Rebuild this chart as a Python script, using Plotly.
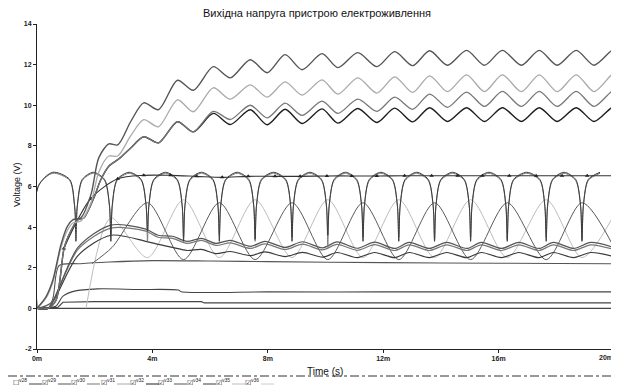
import plotly.graph_objects as go

# ---------------- data (time in ms, voltage in V) ----------------
# steady-state ripple extrema times (peak, trough, peak, ...)
ripple_t = [3.70, 4.21, 4.87, 5.42, 6.11, 6.70, 7.39, 7.98, 8.60, 9.19, 9.88, 10.43,
            11.12, 11.78, 12.40, 13.02, 13.61, 14.23, 14.89, 15.51, 16.13, 16.79,
            17.41, 18.03, 18.69, 19.31, 19.93, 20.0]

a_start_t = [0, 0.31, 0.55, 0.83, 1.04, 1.24, 1.52, 1.87, 2.14, 2.49, 2.80, 3.25]
a_start_v = [0, 0.57, 1.4, 3.13, 4.0, 4.36, 4.46, 5.6, 7.41, 8.1, 8.05, 9.2]
a_ss_v = [10.12, 9.78, 11.23, 10.74, 11.9, 11.35, 12.24, 11.6, 12.49, 11.75, 12.54, 11.85,
          12.59, 11.9, 12.64, 11.95, 12.68, 11.97, 12.7, 11.97, 12.7, 11.97, 12.7, 11.97,
          12.7, 11.97, 12.7, 12.65]

b_start_t = [0, 0.31, 0.55, 0.83, 1.04, 1.24, 1.52, 1.87, 2.14, 2.49, 2.80, 3.25]
b_start_v = [0, 0.5, 1.3, 3.0, 3.8, 4.2, 4.3, 5.2, 6.7, 7.5, 7.5, 8.5]
b_ss_v = [9.29, 8.94, 10.27, 9.68, 10.86, 10.3, 11.0, 10.4, 11.15, 10.5, 11.25, 10.55,
          11.35, 10.6, 11.4, 10.63, 11.45, 10.67, 11.5, 10.67, 11.5, 10.67, 11.5, 10.67,
          11.5, 10.67, 11.5, 11.45]

cd_start_t = [0, 0.38, 0.66, 0.93, 1.07, 1.42, 1.62, 1.97, 2.21, 2.49, 2.83, 3.25]
cd_start_v = [0, 0, 0.4, 2.9, 3.5, 4.36, 4.45, 5.44, 6.33, 7.0, 7.35, 7.9]
c_ss_v = [8.45, 8.15, 9.19, 8.69, 9.7, 9.3, 10.0, 9.38, 10.1, 9.5, 10.2, 9.6, 10.3, 9.7,
          10.4, 9.8, 10.55, 9.9, 10.65, 9.94, 10.68, 9.94, 10.68, 9.94, 10.68, 9.94,
          10.68, 10.6]
d_ss_v = [8.45, 8.15, 9.19, 8.69, 9.6, 9.05, 9.78, 9.04, 9.8, 9.1, 9.82, 9.12, 9.84,
          9.15, 9.86, 9.18, 9.88, 9.2, 9.88, 9.2, 9.88, 9.2, 9.88, 9.2, 9.88, 9.2,
          9.88, 9.8]

# rectifier "dome" waveforms: dip times and dip depths
dip_t = [1.35, 2.56, 3.83, 5.08, 6.32, 7.56, 8.84, 10.08, 11.30, 12.54, 13.78,
         15.03, 16.30, 17.65, 18.89]
q1_dip_v = [3.3, 3.3, 3.8, 3.3, 3.3, 3.4, 3.3, 3.6, 3.3, 3.3, 3.3, 3.3, 3.3, 3.3, 3.3]
q2_dip_v = [4.4, 3.6, 3.3, 3.5, 3.6, 3.3, 3.5, 3.0, 3.5, 3.5, 3.4, 3.5, 3.4, 3.5, 3.4]
dome_top = 6.7

# regulated output with triangle markers
m_t = [0.93, 1.86, 2.80, 3.70, 4.63, 5.53, 6.42, 7.32, 8.25, 9.12, 10.05, 10.91,
       11.78, 12.74, 13.68, 14.58, 15.44, 16.37, 17.30, 18.20, 19.07, 20.0]
m_v = [2.95, 5.4, 6.38, 6.55, 6.55, 6.5, 6.45, 6.5, 6.5, 6.5, 6.52, 6.52, 6.52, 6.53,
       6.53, 6.53, 6.53, 6.53, 6.53, 6.53, 6.53, 6.53]

# slow sinusoid-like waveforms (peak at every other dip)
s_dark_t = [1.9, 2.6, 3.83, 5.08, 6.32, 7.56, 8.84, 10.08, 11.30, 12.54, 13.78, 15.03,
            16.30, 17.65, 18.89, 20.0]
s_dark_v = [2.2, 3.0, 5.2, 2.4, 5.2, 2.4, 5.2, 2.4, 5.2, 2.4, 5.2, 2.4, 5.2, 2.4, 5.2, 3.0]
s_light_t = [1.7, 2.56, 3.83, 5.08, 6.32, 7.56, 8.84, 10.08, 11.30, 12.54, 13.78,
             15.03, 16.30, 17.65, 18.89, 20.0]
s_light_v = [0.0, 4.45, 2.5, 5.35, 2.5, 5.35, 2.5, 5.35, 2.5, 5.35, 2.5, 5.35, 2.5, 5.35,
             2.5, 4.6]

# small wavy outputs
w_t = [0, 0.38, 1.42, 2.56, 3.77, 4.2, 4.7, 5.2, 5.7, 6.2, 6.7, 7.4, 7.9, 8.6, 9.2, 9.9,
       10.4, 11.1, 11.7, 12.4, 12.9, 13.6, 14.2, 14.9, 15.4, 16.1, 16.7, 17.4, 17.9,
       18.6, 19.2, 20.0]
w1_v = [0, 0, 3.0, 4.1, 3.9, 3.6, 3.55, 3.3, 3.45, 3.2, 3.35, 3.05, 3.3, 3.0, 3.28, 2.98,
        3.27, 2.96, 3.26, 2.95, 3.25, 2.95, 3.25, 2.95, 3.25, 2.95, 3.25, 2.95, 3.25,
        2.95, 3.25, 3.0]
w2_v = [0, 0, 2.9, 3.95, 3.8, 3.5, 3.45, 3.2, 3.35, 3.1, 3.22, 2.95, 3.18, 2.9, 3.16,
        2.88, 3.15, 2.86, 3.14, 2.85, 3.13, 2.85, 3.13, 2.85, 3.13, 2.85, 3.13, 2.85,
        3.13, 2.85, 3.13, 2.9]
w3_v = [0, 0, 2.6, 3.6, 3.3, 3.15, 3.0, 2.85, 2.9, 2.7, 2.8, 2.6, 2.78, 2.55, 2.76, 2.52,
        2.75, 2.5, 2.75, 2.5, 2.75, 2.5, 2.75, 2.5, 2.75, 2.5, 2.75, 2.5, 2.75, 2.5,
        2.75, 2.55]

# nearly flat outputs
f1_t = [0, 0.5, 0.76, 1.5, 2.5, 4.0, 6.0, 8.0, 12.0, 16.0, 20.0]
f1_v = [0, 0.3, 2.1, 2.2, 2.28, 2.35, 2.33, 2.3, 2.25, 2.22, 2.2]
f2_t = [0, 0.65, 0.9, 1.3, 2.1, 3.5, 4.9, 5.0, 8.0, 12.0, 20.0]
f2_v = [0, 0.1, 0.6, 0.85, 0.96, 0.93, 0.9, 0.82, 0.81, 0.81, 0.81]
f3_t = [0, 0.72, 0.9, 2.0, 5.7, 5.8, 10.0, 20.0]
f3_v = [0, 0.05, 0.3, 0.33, 0.33, 0.27, 0.27, 0.27]
f4_t = [0, 20.0]
f4_v = [0, 0]

x_ticks = [0, 4, 8, 12, 16, 20]
x_tick_text = ["0m", "4m", "8m", "12m", "16m", "20m"]
y_ticks = [-2, 0, 2, 4, 6, 8, 10, 12, 14]
legend_names = ["v28", "v29", "v30", "v31", "v32", "v33", "v34", "v35", "v36"]

# ---------------- page geometry (page has an 8 px body margin) ----------------
FIG_W, FIG_H = 611, 379
ML, MR, MT, MB = 29, 5, 16, 38
PW, PH = FIG_W - ML - MR, FIG_H - MT - MB


def px_x(px):  # page pixel -> paper x
    return (px - 8 - ML) / PW


def px_y(py):  # page pixel -> paper y
    return (FIG_H - MB - (py - 8)) / PH


# ---------------- helpers ----------------
def dome_wave(dips, depths, top):
    xs, ys = [0, 0.04, 0.55], [0, 6.0, top]
    for i, (d, v) in enumerate(zip(dips, depths)):
        xs += [d - 0.22, d - 0.05, d, d + 0.05, d + 0.22]
        ys += [top - 0.35, top - 1.6, v, top - 1.6, top - 0.35]
        nxt = dips[i + 1] if i + 1 < len(dips) else d + 1.25
        xs.append((d + nxt) / 2)
        ys.append(top)
    return xs, ys


fig = go.Figure()


def add(x, y, color, width=1.2, shape="spline", mode="lines", **kw):
    fig.add_trace(go.Scatter(x=x, y=y, mode=mode, showlegend=False, hoverinfo="skip",
                             line=dict(color=color, width=width, shape=shape,
                                       smoothing=0.8 if shape == "spline" else None),
                             **kw))


# flat / bottom lines
add(f4_t, f4_v, "#444444", 1.1, "linear")
add(f3_t, f3_v, "#444444", 1.1, "linear")
add(f2_t, f2_v, "#444444", 1.1, "spline")
add(f1_t, f1_v, "#555555", 1.1, "spline")

# slow sine-like
add(s_light_t, s_light_v, "#bdbdbd", 1.0)
add(s_dark_t, s_dark_v, "#5a5a5a", 1.0)

# wavy outputs
add(w_t, w3_v, "#3a3a3a", 1.2)
add(w_t, w2_v, "#777777", 1.2)
add(w_t, w1_v, "#555555", 1.2)

# dome waveforms
qx, qy = dome_wave(dip_t, q2_dip_v, dome_top - 0.05)
add(qx, qy, "#7a7a7a", 1.0)
qx, qy = dome_wave(dip_t, q1_dip_v, dome_top)
add(qx, qy, "#3a3a3a", 1.0)

# regulated line with markers
add(m_t, m_v, "#333333", 1.1, "spline", mode="lines+markers",
    marker=dict(symbol="triangle-up", size=4, color="#222222"))

# top ripple outputs
add(cd_start_t + ripple_t, cd_start_v + d_ss_v, "#1e1e1e", 1.4)
add(cd_start_t + ripple_t, cd_start_v + c_ss_v, "#777777", 1.3)
add(b_start_t + ripple_t, b_start_v + b_ss_v, "#aaaaaa", 1.3)
add(a_start_t + ripple_t, a_start_v + a_ss_v, "#555555", 1.4)

# ---------------- layout ----------------
fig.update_layout(
    width=FIG_W, height=FIG_H,
    margin=dict(l=ML, r=MR, t=MT, b=MB, autoexpand=False),
    paper_bgcolor="white", plot_bgcolor="white",
    font=dict(family="Liberation Sans, Arial, sans-serif", color="#222222"),
    title=dict(text="Вихідна напруга пристрою електроживлення",
               x=(317 - 8) / FIG_W, xref="container",
               y=1 - (13 - 8) / FIG_H, yref="container", xanchor="center",
               yanchor="middle", pad=dict(t=0, b=0),
               font=dict(size=11, color="#111111")),
)
fig.update_xaxes(range=[0, 20], tickvals=x_ticks[:-1],
                 ticktext=[f"<b>{t}</b>" for t in x_tick_text[:-1]], automargin=False,
                 showgrid=False, zeroline=False, showline=True, linecolor="#222222",
                 linewidth=1, ticks="outside", ticklen=3, tickcolor="#222222",
                 tickfont=dict(size=7, color="#222222"))
fig.update_yaxes(range=[-2, 14], tickvals=y_ticks,
                 ticktext=[f"<b>{v}</b>" for v in y_ticks], showgrid=False,
                 zeroline=False, automargin=False,
                 showline=True, linecolor="#222222", linewidth=1, ticks="outside",
                 ticklen=3, tickcolor="#222222", tickfont=dict(size=7, color="#222222"))

# last x tick (kept inside the page)
fig.add_shape(type="line", xref="x", yref="paper", x0=x_ticks[-1], x1=x_ticks[-1],
              y0=0, y1=-3 / PH, line=dict(color="#222222", width=1))
fig.add_annotation(xref="paper", yref="paper", x=px_x(615), y=px_y(357),
                   xanchor="right", yanchor="middle", showarrow=False,
                   text=f"<b>{x_tick_text[-1]}</b>", font=dict(size=7, color="#222222"))

# axis titles
fig.add_annotation(xref="paper", yref="paper", x=px_x(325), y=px_y(371),
                   xanchor="center", yanchor="middle", showarrow=False,
                   text="Time (s)", font=dict(size=10, color="#111111"))
fig.add_annotation(xref="paper", yref="paper", x=px_x(17), y=px_y(185),
                   xanchor="center", yanchor="middle", showarrow=False, textangle=-90,
                   text="Voltage (V)", font=dict(size=9, color="#111111"))

# legend strip below the chart
fig.add_shape(type="line", xref="paper", yref="paper", x0=px_x(8), x1=px_x(614),
              y0=px_y(376), y1=px_y(376),
              line=dict(color="#333333", width=1, dash="dashdot"))
fig.add_shape(type="line", xref="paper", yref="paper", x0=px_x(614), x1=px_x(614),
              y0=px_y(373), y1=px_y(386), line=dict(color="#333333", width=1, dash="dot"))
legend_colors = ["#444444", "#555555", "#777777", "#aaaaaa", "#1e1e1e", "#555555",
                 "#3a3a3a", "#bdbdbd", "#cccccc"]
legend_px = [20, 49, 78, 108, 137, 165, 194, 223, 252]
for name, col, px in zip(legend_names, legend_colors, legend_px):
    box = "☐" if name == "v28" else "☑"
    fig.add_annotation(xref="paper", yref="paper", x=px_x(px), y=px_y(382),
                       xanchor="center", yanchor="middle", showarrow=False,
                       text=f"{box}<sup>{name}</sup>", font=dict(size=7, color="#222222"))
    fig.add_shape(type="line", xref="paper", yref="paper", x0=px_x(px + 9),
                  x1=px_x(px + 22), y0=px_y(384), y1=px_y(384),
                  line=dict(color=col, width=1))

fig.write_html("out.html")
